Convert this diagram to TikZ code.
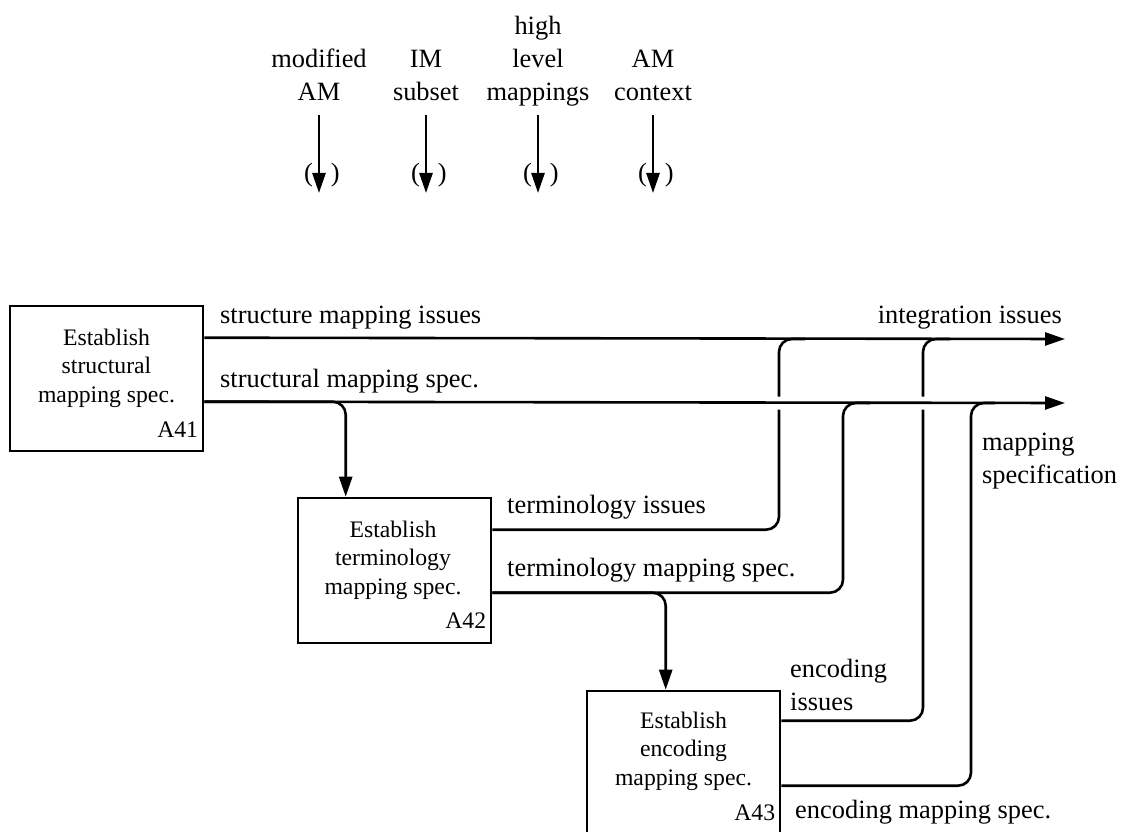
\documentclass[tikz,border=0pt]{standalone}
\usepackage{fontspec}
\setmainfont{Liberation Serif}
\usetikzlibrary{arrows.meta,calc}
\begin{document}
\begin{tikzpicture}[x=1pt,y=-1pt,
  every node/.style={inner sep=0pt},
  boxfont/.style={font=\fontsize{23.7}{28.5}\selectfont},
  lblfont/.style={font=\fontsize{26.4}{33}\selectfont},
  wire/.style={line width=2.6pt, rounded corners=13pt},
  tip/.style={-{Triangle[length=20pt,width=13pt]}},
  actbox/.style={draw, line width=2.6pt, minimum width=193pt, minimum height=145pt, fill=white},
  lbl/.style={lblfont, anchor=base west},
]
\useasboundingbox (0,0) rectangle (1125,832);

% activity boxes
\node[actbox] (a41) at (106.5,378.5) {};
\node[actbox] (a42) at (394.5,570.5) {};
\node[actbox] (a43) at (683.5,763.5) {};

\node[boxfont, anchor=base] (a41t) at (106.5,345) {\begin{tabular}[t]{@{}c@{}}Establish\\structural\\mapping spec.\end{tabular}};
\node[boxfont, anchor=base] (a42t) at (393,537) {\begin{tabular}[t]{@{}c@{}}Establish\\terminology\\mapping spec.\end{tabular}};
\node[boxfont, anchor=base] (a43t) at (683.5,728) {\begin{tabular}[t]{@{}c@{}}Establish\\encoding\\mapping spec.\end{tabular}};

\node[boxfont, anchor=base east] (a41n) at ($(a41.south east)+(-6,-15)$) {A41};
\node[boxfont, anchor=base east] (a42n) at ($(a42.south east)+(-6,-16)$) {A42};
\node[boxfont, anchor=base east] (a43n) at ($(a43.south east)+(-6,-17)$) {A43};

% control inputs along the top
\foreach \i/\x/\txt in {1/319/{modified\\AM}, 2/426/{IM\\subset}, 3/538/{high\\level\\mappings}, 4/653/{AM\\context}} {
  \node[lblfont, anchor=base] (in\i) at (\x,101) {\begin{tabular}[b]{@{}c@{}}\txt\end{tabular}};
  \coordinate (in\i s) at (\x,115);
  \coordinate (in\i e) at (\x,193);
  \draw[line width=2.6pt, tip] (in\i s) -- (in\i e);
  \node[lblfont, anchor=base] (par\i) at (\x+3,182) {(\hspace{18pt})};
}

% ports on the boxes
\coordinate (a41o1) at ($(a41.north east)+(0,33)$);
\coordinate (a41o2) at ($(a41.north east)+(0,97)$);
\coordinate (a42o1) at ($(a42.north east)+(0,33)$);
\coordinate (a42o2) at ($(a42.north east)+(0,96)$);
\coordinate (a43o1) at ($(a43.north east)+(0,31)$);
\coordinate (a43o2) at ($(a43.north east)+(0,96)$);
\coordinate (a42c) at ($(a42.north west)+(49,0)$);
\coordinate (a43c) at ($(a43.north west)+(80,0)$);

% outputs on the right
\coordinate (outint) at (1065,339);
\coordinate (outspec) at (1065,403);

% junction points
\coordinate (j1lo) at (779,409.5);
\coordinate (j1hi) at (779,396.5);
\coordinate (j1end) at (805,339);
\coordinate (j2) at (843,403);
\coordinate (j2end) at (870,403);
\coordinate (j3lo) at (923,409.5);
\coordinate (j3hi) at (923,396.5);
\coordinate (j3end) at (950,339);
\coordinate (j4) at (971,403);
\coordinate (j4end) at (995,403);

% main output lines
\draw[wire,tip] (a41o1) -- (outint);
\draw[wire,tip] (a41o2) -- (outspec);
\draw[wire,tip] (a41o2) -| (a42c);

% terminology outputs
\draw[wire] (a42o1) -| (j1lo);
\draw[wire] (j1hi) |- (j1end);
\draw[wire] (a42o2) -| (j2) -- (j2end);
\draw[wire,tip] (a42o2) -| (a43c);

% encoding outputs
\draw[wire] (a43o1) -| (j3lo);
\draw[wire] (j3hi) |- (j3end);
\draw[wire] (a43o2) -| (j4) -- (j4end);

% connector labels
\node[lbl] (lsmi) at (220,323) {structure mapping issues};
\node[lbl] (lsms) at (220,387) {structural mapping spec.};
\node[lblfont, anchor=base east] (lint) at (1062,323) {integration issues};
\node[lbl] (lmsp) at (982,450) {\begin{tabular}[t]{@{}l@{}}mapping\\specification\end{tabular}};
\node[lbl] (lti) at (507,513) {terminology issues};
\node[lbl] (ltms) at (507,576) {terminology mapping spec.};
\node[lbl] (lei) at (790,677) {\begin{tabular}[t]{@{}l@{}}encoding\\issues\end{tabular}};
\node[lbl] (lems) at (795,818) {encoding mapping spec.};
\end{tikzpicture}
\end{document}
